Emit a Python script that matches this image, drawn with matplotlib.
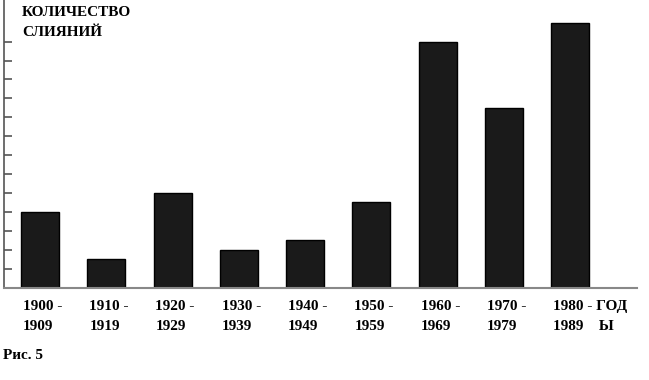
import matplotlib.pyplot as plt
from matplotlib.transforms import blended_transform_factory

# данные: количество слияний по десятилетиям
periods = ["1900 -\n1909", "1910 -\n1919", "1920 -\n1929", "1930 -\n1939",
           "1940 -\n1949", "1950 -\n1959", "1960 -\n1969", "1970 -\n1979",
           "1980 - ГОД\n1989    Ы"]
mergers = [4, 1.5, 5, 2, 2.5, 4.5, 13, 9.5, 14]
yticks = list(range(1, 14))

plt.rcParams['font.family'] = ['Liberation Serif', 'DejaVu Serif']
plt.rcParams['font.weight'] = 'bold'

fig = plt.figure(figsize=(6.49, 3.8), dpi=100)
ax = fig.add_axes([3.5 / 649, 92.5 / 380, 633.5 / 649, 287.5 / 380])

x = list(range(len(mergers)))
w = 0.574
ax.bar(x, mergers, width=w, color='#1a1a1a', edgecolor='black', linewidth=1)

ax.set_xlim(-0.551, 9.01)
ax.set_ylim(0, 15.2)
ax.set_yticks(yticks)
ax.set_yticklabels([])
ax.set_xticks([])
ax.tick_params(axis='y', direction='in', length=6, width=1.2, color='#555555')

for s in ['top', 'right']:
    ax.spines[s].set_visible(False)
ax.spines['left'].set_color('#555555')
ax.spines['bottom'].set_color('#888888')
ax.spines['left'].set_linewidth(1.2)
ax.spines['bottom'].set_linewidth(1.5)

tr = blended_transform_factory(ax.transData, ax.transAxes)
for i, lab in enumerate(periods):
    ax.text(i - w / 2 + 0.03, -0.045, lab, transform=tr, ha='left', va='top',
            fontsize=11, fontweight='bold', linespacing=1.65)

fig.text(22 / 649, 1 - 6 / 380, "КОЛИЧЕСТВО\nСЛИЯНИЙ", ha='left', va='top',
         fontsize=11, fontweight='bold', linespacing=1.7)
fig.text(3 / 649, 1 - 349 / 380, "Рис. 5", ha='left', va='top',
         fontsize=11, fontweight='bold')

fig.savefig('out.png', dpi=100)
